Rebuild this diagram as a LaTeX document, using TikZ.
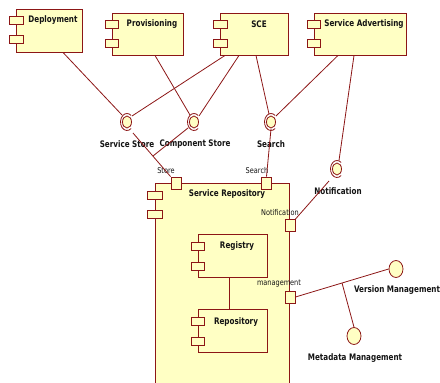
\documentclass[tikz,border=0pt]{standalone}
\usepackage{fontspec}
\usetikzlibrary{shapes.geometric,calc}
\newfontfamily\boldlbl[FakeStretch=0.8]{DejaVu Sans Bold}
\newfontfamily\portlbl[FakeStretch=0.82]{DejaVu Sans}
\definecolor{umlfill}{RGB}{255,255,196}
\definecolor{umlline}{RGB}{140,22,22}
\definecolor{umltext}{RGB}{20,20,20}
\tikzset{
  comp/.style={draw=umlline, fill=umlfill, line width=0.9pt, rectangle, inner sep=0pt},
  sideport/.style={draw=umlline, fill=umlfill, line width=0.9pt, rectangle, inner sep=0pt,
                   minimum width=14pt, minimum height=8pt},
  edgeport/.style={draw=umlline, fill=umlfill, line width=0.9pt, rectangle, inner sep=0pt,
                   minimum width=10pt, minimum height=12pt},
  ball/.style={draw=umlline, fill=umlfill, line width=0.8pt, ellipse, inner sep=0pt,
               minimum width=9pt, minimum height=12pt},
  bigball/.style={draw=umlline, fill=umlfill, line width=0.8pt, ellipse, inner sep=0pt,
                  minimum width=14pt, minimum height=17pt},
  socket/.style={draw=umlline, line width=0.8pt},
  wire/.style={draw=umlline, line width=0.8pt},
  title/.style={font=\boldlbl\fontsize{9}{11}\selectfont, text=umltext, inner sep=0pt},
  plabel/.style={font=\portlbl\fontsize{8}{10}\selectfont, text=umltext, inner sep=0pt},
}
% a component box with its two small port tabs on the left edge
\newcommand{\umlcomp}[8]{% name, x1, y1, x2, y2, tab width, tab y1, tab y2
  \node[comp, minimum width={(#4-#2)*1pt}, minimum height={(#5-#3)*1pt}] (#1) at ({(#2+#4)/2},{(#3+#5)/2}) {};
  \node[sideport, minimum width=#6pt] (#1-p1) at (#2,#7) {};
  \node[sideport, minimum width=#6pt] (#1-p2) at (#2,#8) {};
}
% provided interface ball surrounded by a required-interface socket
\newcommand{\umlsocket}[3]{% name, x, y
  \node[ball] (#1) at (#2,#3) {};
  \draw[socket] ([shift={(50:6.5 and 8.5)}]#1.center) arc[start angle=50, end angle=310, x radius=6.5, y radius=8.5];
}
\begin{document}
\begin{tikzpicture}[x=1pt,y=-1pt]
\useasboundingbox (0,0) rectangle (440,383);
\clip (0,0) rectangle (440,383);

% top row of components
\umlcomp{dep}{16}{9}{82}{52}{14}{20.5}{39.5}
\node[title] (depT) at (53,20) {Deployment};
\umlcomp{prov}{112}{13}{183}{55}{13}{24}{43.5}
\node[title] (provT) at (152,24) {Provisioning};
\umlcomp{sce}{220}{13}{288}{55}{14}{24}{43.5}
\node[title] (sceT) at (259,24) {SCE};
\umlcomp{sadv}{314}{13}{406}{55}{13}{24}{43.5}
\node[title] (sadvT) at (364,24) {Service Advertising};

% service repository with its nested parts
\umlcomp{repo}{155}{183}{289}{392}{15}{195}{214.5}
\node[title] (repoT) at (227,194) {Service Repository};
\node[edgeport] (store) at (176,183) {};
\node[edgeport] (sport) at (266.5,183) {};
\node[edgeport] (nport) at (290,225.5) {};
\node[edgeport] (mport) at (290,297) {};
\node[plabel] (storeL) at (166,171) {Store};
\node[plabel] (sportL) at (257,171) {Search};
\node[plabel] (nportL) at (280,213) {Notification};
\node[plabel] (mportL) at (279,284) {management};

\umlcomp{reg}{198}{234}{267}{277}{13}{246.5}{266}
\node[title] (regT) at (237,246) {Registry};
\umlcomp{rep}{198}{309}{267}{352}{13}{321}{341}
\node[title] (repT) at (236,322) {Repository};
\draw[wire] (reg.south -| 229,0) -- (rep.north -| 229,0);

% interfaces
\umlsocket{sstore}{127}{122}
\umlsocket{cstore}{194}{122}
\umlsocket{search}{271}{122}
\umlsocket{notif}{337}{169}
\node[bigball] (vm) at (396,269) {};
\node[bigball] (mm) at (354,336) {};

\node[title] (sstoreL) at (127,144) {Service Store};
\node[title] (cstoreL) at (195,144) {Component Store};
\node[title] (searchL) at (271,144) {Search};
\node[title] (notifL) at (338,191) {Notification};
\node[title] (vmL) at (397,290) {Version Management};
\node[title] (mmL) at (355,358) {Metadata Management};

% dependencies from components to sockets
\draw[wire] ([xshift=14]dep.south) -- ([shift={(-5,-7)}]sstore.center);
\draw[wire] ([xshift=7.5]prov.south) -- ([shift={(-4,-7)}]cstore.center);
\draw[wire] ([xshift=-29]sce.south) -- ([shift={(5,-6)}]sstore.center);
\draw[wire] ([xshift=-15]sce.south) -- ([shift={(5,-6)}]cstore.center);
\draw[wire] ([xshift=2]sce.south) -- ([shift={(-2,-8)}]search.center);
\draw[wire] ([xshift=-22]sadv.south) -- ([shift={(5,-6)}]search.center);
\draw[wire] ([xshift=-6]sadv.south) -- ([shift={(2,-8.5)}]notif.center);

% delegation to the repository ports
\coordinate (sstoreOut) at ([shift={(6,11)}]sstore.center);
\draw[wire] (sstoreOut) -- (store.north west);
\coordinate (storeJoin) at ($(sstoreOut)!0.53!(store.north west)$);
\draw[wire] ([shift={(-6,6)}]cstore.center) -- (storeJoin);
\draw[wire] ([shift={(0,7)}]search.center) -- (sport.north);
\draw[wire] ([shift={(-8,12)}]notif.center) -- (nport.north east);

% management port to provided interfaces
\draw[wire] (mport.east) -- (vm.west);
\coordinate (mJoin) at ($(mport.east)!0.5!(vm.west)$);
\draw[wire] (mJoin) -- (mm.north);
\end{tikzpicture}
\end{document}
